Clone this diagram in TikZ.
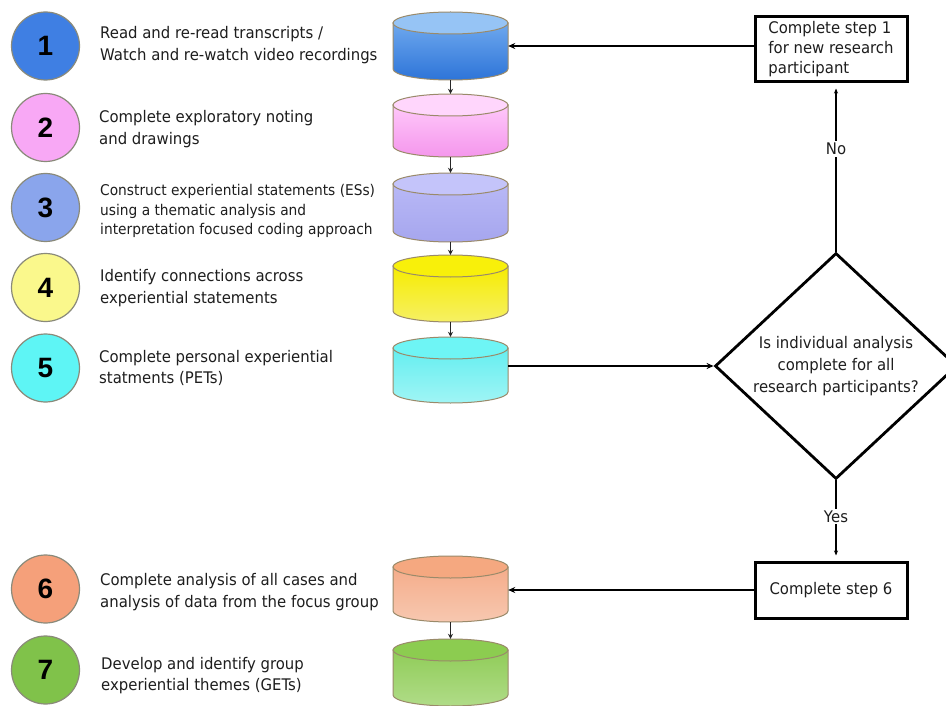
\documentclass[tikz,border=0pt]{standalone}
\usepackage{fontspec}
\setmainfont{DejaVu Sans}[FakeStretch=0.93]
\newfontfamily\numfont{Liberation Sans}
\usetikzlibrary{shapes.geometric,arrows.meta}
\definecolor{txt}{HTML}{1E1E1E}
\definecolor{cyledge}{HTML}{9A8A6A}
\definecolor{circedge}{HTML}{8A8A7A}
\tikzset{
  numcirc/.style={circle, minimum size=68pt, inner sep=0pt, draw=circedge, line width=1.2pt,
    font=\numfont\bfseries\fontsize{28}{28}\selectfont, text=black},
  steptext/.style={anchor=west, inner sep=0pt, align=left, text=txt, font=\fontsize{16}{21.5}\selectfont},
  cylbox/.style={rectangle, minimum width=115pt, inner sep=0pt},
  flowbox/.style={rectangle, draw=black, line width=3pt, minimum width=152pt, text=txt,
    font=\fontsize{16}{20}\selectfont, align=left},
  smallarrow/.style={-{Stealth[length=5pt,width=5pt]}, line width=1.1pt, draw=black!85},
  bigarrow/.style={-{Stealth[length=7pt,width=6pt]}, line width=2.8pt, draw=black},
  lbl/.style={fill=white, inner sep=2pt, text=txt, font=\fontsize{16}{20}\selectfont}
}
\newcommand\mycyl[6]{%
  \node[cylbox, minimum height={#3-#2}] (#1) at (450.5,{(#2+#3)/2}) {};
  \shade[top color=#5, bottom color=#6, draw=cyledge, line width=1pt]
    (393,#2+11) -- (393,#3-11) arc[start angle=180, end angle=0, x radius=57.5, y radius=11]
    -- (508,#2+11) -- cycle;
  \filldraw[fill=#4, draw=cyledge, line width=1pt] (450.5,#2+11) ellipse[x radius=57.5, y radius=11];
}
\begin{document}
\begin{tikzpicture}[x=1pt,y=-1pt]
\useasboundingbox[fill=white] (0,0) rectangle (946,706);

% circles
\node[numcirc, fill={rgb,255:red,63;green,127;blue,227}] (n1) at (45.5,46) {1};
\node[numcirc, fill={rgb,255:red,248;green,168;blue,245}] (n2) at (45.5,127.5) {2};
\node[numcirc, fill={rgb,255:red,138;green,165;blue,236}] (n3) at (45.5,207.5) {3};
\node[numcirc, fill={rgb,255:red,250;green,248;blue,140}] (n4) at (45.5,287.5) {4};
\node[numcirc, fill={rgb,255:red,94;green,245;blue,245}] (n5) at (45.5,368) {5};
\node[numcirc, fill={rgb,255:red,245;green,160;blue,122}] (n6) at (45.5,589) {6};
\node[numcirc, fill={rgb,255:red,128;green,194;blue,74}] (n7) at (45.5,670) {7};

% step texts
\node[steptext] (t1) at (100,45) {Read and re-read transcripts /\\Watch and re-watch video recordings};
\node[steptext] (t2) at (99,129) {Complete exploratory noting\\and drawings};
\node[steptext, font=\fontsize{14.8}{19.5}\selectfont] (t3) at (100,211) {Construct experiential statements (ESs)\\using a thematic analysis and\\interpretation focused coding approach};
\node[steptext] (t4) at (100,288) {Identify connections across\\experiential statements};
\node[steptext] (t5) at (99,368) {Complete personal experiential\\statments (PETs)};
\node[steptext] (t6) at (100,592) {Complete analysis of all cases and\\analysis of data from the focus group};
\node[steptext] (t7) at (101,675.5) {Develop and identify group\\experiential themes (GETs)};

% cylinders
\mycyl{c1}{12}{80}{{rgb,255:red,150;green,196;blue,245}}{{rgb,255:red,110;green,168;blue,238}}{{rgb,255:red,45;green,116;blue,216}}
\mycyl{c2}{94}{157}{{rgb,255:red,255;green,214;blue,252}}{{rgb,255:red,255;green,200;blue,250}}{{rgb,255:red,244;green,150;blue,236}}
\mycyl{c3}{173}{242}{{rgb,255:red,196;green,196;blue,250}}{{rgb,255:red,184;green,184;blue,246}}{{rgb,255:red,166;green,166;blue,238}}
\mycyl{c4}{255}{322}{{rgb,255:red,248;green,240;blue,10}}{{rgb,255:red,246;green,236;blue,0}}{{rgb,255:red,246;green,240;blue,100}}
\mycyl{c5}{337}{403}{{rgb,255:red,110;green,245;blue,245}}{{rgb,255:red,100;green,238;blue,240}}{{rgb,255:red,160;green,245;blue,245}}
\mycyl{c6}{556}{622}{{rgb,255:red,245;green,168;blue,128}}{{rgb,255:red,245;green,172;blue,138}}{{rgb,255:red,247;green,200;blue,176}}
\mycyl{c7}{639}{706}{{rgb,255:red,140;green,204;blue,80}}{{rgb,255:red,144;green,204;blue,88}}{{rgb,255:red,176;green,220;blue,136}}

% cylinder connectors
\draw[smallarrow] (c1.south) -- (c2.north);
\draw[smallarrow] (c2.south) -- (c3.north);
\draw[smallarrow] (c3.south) -- (c4.north);
\draw[smallarrow] (c4.south) -- (c5.north);
\draw[smallarrow] (c6.south) -- (c7.north);

% right side
\node[flowbox, minimum height=65pt] (b1) at (831,49.5) {Complete step 1\\for new research\\participant};
\node[diamond, draw=black, line width=2.8pt, minimum width=242pt, minimum height=226pt, inner sep=0pt,
      aspect=1.07, align=center, text=txt, font=\fontsize{16}{22}\selectfont] (d) at (836,366)
      {Is individual analysis\\complete for all\\research participants?};
\node[flowbox, minimum height=56pt, align=center] (b6) at (831,590) {Complete step 6};

\draw[bigarrow] (b1.west |- c1.east) -- (c1.east);
\draw[bigarrow] (c5.east |- d.west) -- (d.west);
\draw[bigarrow] (b6.west) -- (b6.west -| c6.east);
\draw[bigarrow, -{Stealth[length=5pt,width=4pt]}, shorten >=5pt] (d.north) -- node[lbl, pos=0.61] (no) {No} (d.north |- b1.south);
\draw[bigarrow, -{Stealth[length=5pt,width=4pt]}, shorten >=5pt] (d.south) -- node[lbl, pos=0.45] (yes) {Yes} (d.south |- b6.north);
\end{tikzpicture}
\end{document}
